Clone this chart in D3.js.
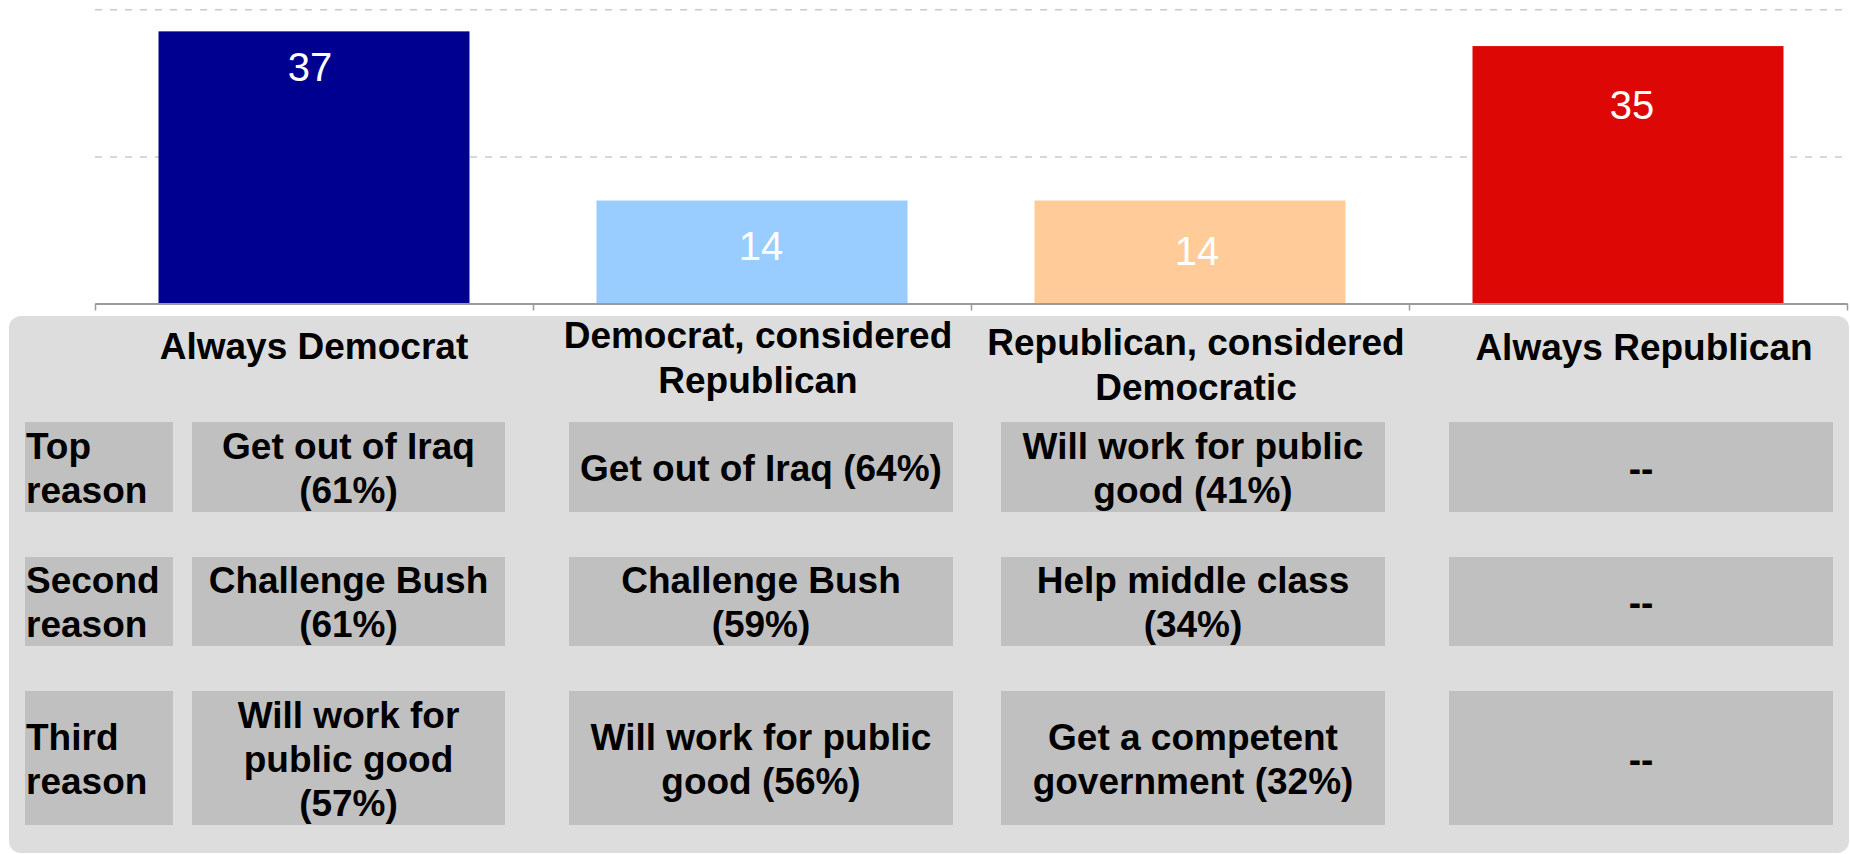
<!DOCTYPE html>
<html>
<head>
<meta charset="utf-8">
<script src="https://cdn.jsdelivr.net/npm/d3@7"></script>
<style>
  html, body { margin: 0; padding: 0; background: #ffffff; }
  svg { display: block; font-family: "Liberation Sans", Arial, Helvetica, sans-serif; }
</style>
</head>
<body>
<svg id="chart" width="1850" height="854"></svg>
<script>
// ---------- DATA ----------
const categories = ["Always Democrat", "Democrat, considered Republican", "Republican, considered Democratic", "Always Republican"];
const values = [37, 14, 14, 35];
const yTicks = [20, 40];
const headerLines = [
  ["Always Democrat"],
  ["Democrat, considered", "Republican"],
  ["Republican, considered", "Democratic"],
  ["Always Republican"]
];
const rowLabels = [["Top", "reason"], ["Second", "reason"], ["Third", "reason"]];
const reasonsAlwaysDem = [["Get out of Iraq", "(61%)"], ["Challenge Bush", "(61%)"], ["Will work for", "public good", "(57%)"]];
const reasonsDemConsRep = [["Get out of Iraq (64%)"], ["Challenge Bush", "(59%)"], ["Will work for public", "good (56%)"]];
const reasonsRepConsDem = [["Will work for public", "good (41%)"], ["Help middle class", "(34%)"], ["Get a competent", "government (32%)"]];
const reasonsAlwaysRep = [["--"], ["--"], ["--"]];
const reasonColumns = [reasonsAlwaysDem, reasonsDemConsRep, reasonsRepConsDem, reasonsAlwaysRep];

// ---------- STYLE / LAYOUT ----------
const barColors = ["#000090", "#99CCFF", "#FFCC99", "#DD0806"];
const labelOffset = [50, 59, 64, 73];          // value label baseline below bar top
const labelDx = [-4, 9, 7, 4];                 // value label shift from bar centre
const plot = { left: 95, right: 1847, top: 9.3, bottom: 303.5 };
const fs = 37, lineH = 44;

// table layout
const panel = { x: 9, y: 316, w: 1840, h: 537, r: 12 };
const labelCol = { x0: 25, x1: 173 };
const colX = [[192, 505], [569, 953], [1001, 1385], [1449, 1833]];
const rowY = [[422, 512], [557, 646], [691, 825]];
const headerX = [314, 758, 1196, 1644];
const headerY = [359, 348, 355, 360];

const svg = d3.select("#chart");

// ---------- SCALES ----------
const x = d3.scaleBand().domain(categories).range([plot.left, plot.right]).paddingInner(0.29).paddingOuter(0.145);
const y = d3.scaleLinear().domain([0, 40]).range([plot.bottom, plot.top]);
const xb = d3.scaleLinear().domain([0, categories.length]).range([plot.left, plot.right]);

// gridlines
const grid = svg.append("g").attr("transform", `translate(${plot.left},0)`)
  .call(d3.axisLeft(y).tickValues(yTicks).tickSize(-(1850 - plot.left)).tickFormat(""));
grid.select(".domain").remove();
grid.selectAll(".tick line").attr("stroke", "#CACACA").attr("stroke-width", 1.5).attr("stroke-dasharray", "7,8");

// bars
svg.append("g").selectAll("rect").data(values).join("rect")
  .attr("x", (d, i) => x(categories[i]))
  .attr("y", d => y(d))
  .attr("width", x.bandwidth())
  .attr("height", d => y(0) - y(d))
  .attr("fill", (d, i) => barColors[i]);

// value labels
svg.append("g").selectAll("text").data(values).join("text")
  .attr("x", (d, i) => x(categories[i]) + x.bandwidth() / 2 + labelDx[i])
  .attr("y", (d, i) => y(d) + labelOffset[i])
  .attr("text-anchor", "middle")
  .attr("fill", "#ffffff")
  .attr("font-size", 40)
  .text(d => d);

// x axis with boundary ticks
const ax = svg.append("g").attr("transform", `translate(0,${plot.bottom})`)
  .call(d3.axisBottom(xb).tickValues(d3.range(categories.length + 1)).tickSize(7).tickSizeOuter(0).tickFormat(""));
ax.select(".domain").attr("stroke", "#9a9a9a").attr("stroke-width", 2);
ax.selectAll(".tick line").attr("stroke", "#9a9a9a").attr("stroke-width", 1.5);

// ---------- TABLE ----------
svg.append("rect")
  .attr("x", panel.x).attr("y", panel.y).attr("width", panel.w).attr("height", panel.h)
  .attr("rx", panel.r).attr("ry", panel.r).attr("fill", "#DDDDDD");

// headers
headerLines.forEach((lines, i) => {
  const t = svg.append("text").attr("text-anchor", "middle").attr("font-weight", "bold")
    .attr("font-size", fs).attr("fill", "#000");
  lines.forEach((ln, k) => {
    t.append("tspan").attr("x", headerX[i]).attr("y", headerY[i] + k * 45).text(ln);
  });
});

function multiline(g, lines, cx, cy, anchor) {
  const n = lines.length;
  const t = g.append("text").attr("text-anchor", anchor).attr("font-weight", "bold")
    .attr("font-size", fs).attr("fill", "#000");
  lines.forEach((ln, k) => {
    t.append("tspan").attr("x", cx).attr("y", cy + (k - (n - 1) / 2) * lineH + 13.5).text(ln);
  });
}

const tbl = svg.append("g");
rowLabels.forEach((lab, r) => {
  const [y0, y1] = rowY[r];
  tbl.append("rect").attr("x", labelCol.x0).attr("y", y0).attr("width", labelCol.x1 - labelCol.x0)
    .attr("height", y1 - y0).attr("fill", "#C0C0C0");
  multiline(tbl, lab, labelCol.x0 + 1, (y0 + y1) / 2, "start");
});

reasonColumns.forEach((col, c) => {
  const [x0, x1] = colX[c];
  col.forEach((lines, r) => {
    const [y0, y1] = rowY[r];
    tbl.append("rect").attr("x", x0).attr("y", y0).attr("width", x1 - x0)
      .attr("height", y1 - y0).attr("fill", "#C0C0C0");
    multiline(tbl, lines, (x0 + x1) / 2, (y0 + y1) / 2, "middle");
  });
});
</script>
</body>
</html>
